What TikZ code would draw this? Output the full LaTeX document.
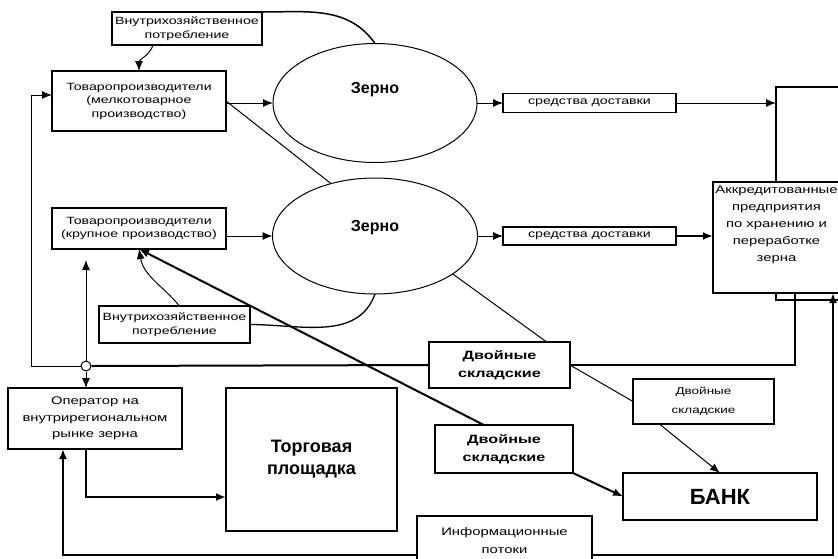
\documentclass[tikz,border=0pt]{standalone}
\usepackage{fontspec}
\setmainfont{Liberation Sans}
\newfontfamily\widefont{Liberation Sans}[FakeStretch=1.35]
\usetikzlibrary{shapes.geometric,arrows.meta}
\newcommand{\fsm}{\widefont\fontsize{10.5}{13.5}\selectfont}
\newcommand{\fmd}{\widefont\fontsize{11}{17}\selectfont}
\newcommand{\fds}{\widefont\bfseries\fontsize{12}{18.5}\selectfont}
\tikzset{
  box/.style={draw, fill=white, line width=1.3pt, inner sep=1pt, outer sep=0pt, align=center},
  zerno/.style={draw, ellipse, line width=1pt, inner sep=0pt, outer sep=0pt},
  thk/.style={line width=2pt},
}
\begin{document}
\begin{tikzpicture}[x=1pt, y=-1pt, line width=1pt, >={Latex[length=10pt,width=8pt]}]
\useasboundingbox (0,0) rectangle (838,558);
\clip (0,0) rectangle (838,558);
% boxes
\node[box, minimum width=69pt, minimum height=213pt] (big) at (810.5,193.5) {};
\node[box, minimum width=150pt, minimum height=33pt, font=\fsm] (vn1) at (187,28.5) {Внутрихозяйственное\\потребление};
\node[box, minimum width=174pt, minimum height=60pt, font=\fsm] (tp1) at (139,101) {Товаропроизводители\\(мелкотоварное\\производство)};
\node[box, minimum width=174pt, minimum height=41pt, font=\fsm] (tp2) at (139,228.5) {Товаропроизводители\\(крупное производство)};
\node[zerno, minimum width=204pt, minimum height=119pt] (z1) at (375,103) {};
\node[font=\bfseries\fontsize{16}{18}\selectfont] (z1t) at (375,90) {Зерно};
\node[zerno, minimum width=205pt, minimum height=116pt] (z2) at (375,236) {};
\node[font=\bfseries\fontsize{16}{18}\selectfont] (z2t) at (375,228) {Зерно};
\node[box, minimum width=173pt, minimum height=19pt, font=\fsm] (sd1) at (589.5,103) {средства доставки};
\node[box, minimum width=173pt, minimum height=18pt, font=\fsm] (sd2) at (589.5,236) {средства доставки};
\node[box, minimum width=127pt, minimum height=111pt] (ak) at (776.5,237.5) {};
\node[font=\fmd, align=center] (akt) at (776.5,224.5) {Аккредитованные\\предприятия\\по хранению и\\переработке\\зерна};
\node[box, minimum width=141pt, minimum height=46pt, font=\fds] (dsA) at (499.5,365) {Двойные\\складские};
\node[box, minimum width=138pt, minimum height=48pt, font=\fds] (dsB) at (504,449) {Двойные\\складские};
\node[box, minimum width=141pt, minimum height=45pt, font=\widefont\fontsize{10}{19}\selectfont] (dsC) at (703.5,401.5) {Двойные\\складские};
\node[box, minimum width=151pt, minimum height=37pt, font=\fsm] (vn2) at (174.5,324.5) {Внутрихозяйственное\\потребление};
\node[box, minimum width=174pt, minimum height=61pt, font=\widefont\fontsize{11}{16.5}\selectfont] (op) at (95,418.5) {Оператор на\\внутрирегиональном\\рынке зерна};
\node[box, minimum width=171pt, minimum height=143pt, font=\bfseries\fontsize{18}{22}\selectfont] (tg) at (311.5,459.5) {Торговая\\площадка};
\node[box, minimum width=194pt, minimum height=47pt, font=\bfseries\fontsize{22}{24}\selectfont] (bank) at (720,496.5) {БАНК};
\node[circle, draw, fill=white, minimum size=10pt, inner sep=0pt] (c) at (86,366) {};
% flows
\draw[->] (tp1.east |- z1.west) -- (z1.west);
\draw[->] (tp2.east |- z2.west) -- (z2.west);
\draw[->] (z1.east) -- (sd1.west);
\draw[->] (sd1.east) -- (sd1.east -| big.west);
\draw[->] (z2.east) -- (sd2.west);
\draw[->,thk] (sd2.east) -- (sd2.east -| ak.west);
\draw (tp1.east) -- (z2.130);
\draw (z2.-26) -- (dsA.26);
\draw (dsA.east) -- (dsC.west);
\draw[->] (dsC.207) -- (bank.north);
\draw[->,thk] (dsB.south east) -- (bank.west);
\draw[->,thk] (dsB.130) -- (tp2.south);
\draw[->,shorten >=11pt] (c.north) -- (c |- tp2.south);
\draw[->] (c.south) -- (c |- op.north);
\coordinate (r1) at (795,365);
\draw[thk] (r1 |- ak.south) -- (r1) -- (dsA.east);
\draw[thk] (dsA.west) -- (c.east);
\coordinate (lx) at (31,95);
\draw[->] (c.west) -| (lx) -- (lx -| tp1.west);
\coordinate (ob) at (86,497);
\draw[->,thk] (c |- op.south) -- (ob) -- (ob -| tg.west);
\coordinate (br) at (833,555);
\coordinate (bl) at (63,555);
\draw[<->,thk] (br |- ak.south) -- (br) -- (bl) -- (bl |- op.south);
% own consumption
\draw[line width=1.5pt] (vn1.north east) to[out=0,in=125] (z1.north);
\draw[->] (vn1.206) to[out=250,in=90] (tp1.north);
\draw[line width=1.3pt] (z2.south) to[out=250,in=0] (vn2.east);
\draw[->] ([xshift=5pt]vn2.north) to[out=130,in=-80] (tp2.south);
\node[box, minimum width=175pt, minimum height=49pt, font=\widefont\fontsize{11}{18}\selectfont] (inf) at (504.5,540.5) {Информационные\\потоки};
\end{tikzpicture}
\end{document}
